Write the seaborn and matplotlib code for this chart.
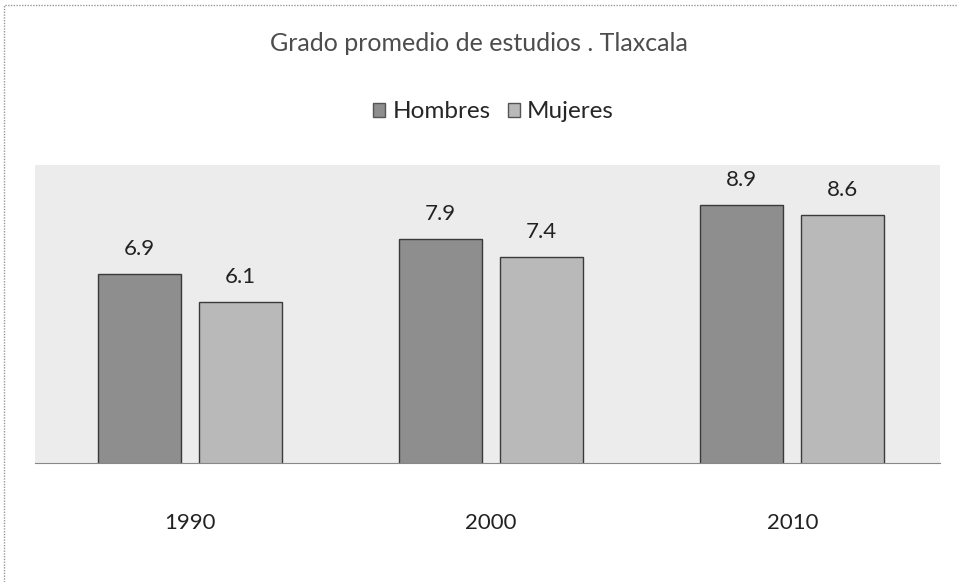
import pandas as pd
import matplotlib.pyplot as plt
import seaborn as sns
from matplotlib.patches import Rectangle

# Data
years = ["1990", "2000", "2010"]
hombres = [6.9, 7.9, 8.9]
mujeres = [6.1, 7.4, 8.6]
series_names = ["Hombres", "Mujeres"]

df = pd.DataFrame({
    "Año": years * 2,
    "Sexo": [series_names[0]] * len(years) + [series_names[1]] * len(years),
    "valor": hombres + mujeres,
})

sns.set_style("white")
plt.rcParams["font.family"] = ["Lato", "DejaVu Sans"]

fig = plt.figure(figsize=(9.58, 5.82), dpi=100)
ax = fig.add_axes([0.0365, 0.2045, 0.9445, 0.512])

colors = ["#8e8e8e", "#b9b9b9"]
sns.barplot(data=df, x="Año", y="valor", hue="Sexo", palette=colors,
            width=0.672, gap=0.18, edgecolor="#3a3a3a", linewidth=1.0,
            ax=ax, legend=False)

ax.set_facecolor("#ececec")
ax.set_xlim(-0.515, 2.49)
ax.set_ylim(1.45, 10.05)
ax.set_yticks([])
ax.set_xlabel("")
ax.set_ylabel("")
for s in ["top", "left", "right"]:
    ax.spines[s].set_visible(False)
ax.spines["bottom"].set_color("#888888")
ax.tick_params(axis="x", length=0, pad=36, labelsize=16, colors="#222222")

for cont in ax.containers:
    ax.bar_label(cont, fmt="%.1f", padding=11, fontsize=16, color="#222222")

fig.text(0.5, 0.926, "Grado promedio de estudios . Tlaxcala", ha="center",
         va="center", fontsize=18, color="#4d4d4d")

handles = [Rectangle((0, 0), 1, 1, facecolor=c, edgecolor="#555555") for c in colors]
fig.legend(handles, series_names, loc="center", bbox_to_anchor=(0.515, 0.808),
           ncol=2, frameon=False, fontsize=17.5, handlelength=0.5, handleheight=0.5,
           handletextpad=0.3, columnspacing=0.7)

fig.patches.append(Rectangle((0.004, -0.01), 1.1, 1.002, transform=fig.transFigure,
                             fill=False, edgecolor="#999999", linewidth=1.0,
                             linestyle=(0, (1, 1))))

fig.savefig("out.png", dpi=100)
